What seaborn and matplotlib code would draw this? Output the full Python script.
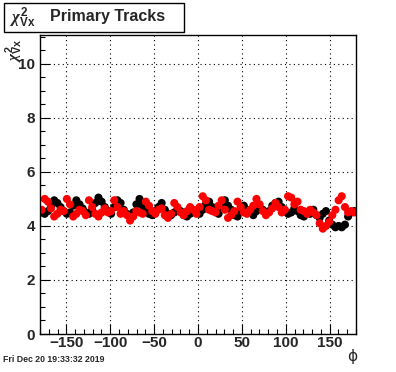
import numpy as np
import pandas as pd
import matplotlib
matplotlib.use("Agg")
import matplotlib.pyplot as plt
from matplotlib.ticker import MultipleLocator
from matplotlib.patches import Rectangle
import seaborn as sns

# phi bin centres (100 bins over -180..180)
phi = np.arange(-178.2, 180, 3.6)

black_vals = [
    4.50, 4.45, 4.55, 4.70, 4.95, 4.85, 4.70, 4.55, 4.45, 4.50,
    4.75, 4.95, 4.80, 4.65, 4.50, 4.45, 4.60, 4.85, 5.05, 4.90,
    4.70, 4.55, 4.45, 4.70, 4.95, 4.85, 4.60, 4.45, 4.35, 4.50,
    4.80, 5.00, 4.75, 4.55, 4.45, 4.40, 4.55, 4.70, 4.85, 4.60,
    4.45, 4.40, 4.50, 4.60, 4.55, 4.40, 4.35, 4.45, 4.60, 4.50,
    4.45, 4.60, 4.80, 4.90, 4.70, 4.55, 4.45, 4.70, 4.95, 4.75,
    4.60, 4.40, 4.35, 4.55, 4.75, 4.60, 4.50, 4.40, 4.55, 4.70,
    4.60, 4.45, 4.55, 4.75, 4.85, 4.90, 4.70, 4.55, 4.45, 4.50,
    4.65, 4.55, 4.40, 4.35, 4.50, 4.45, 4.60, 4.40, 4.30, 4.45,
    4.55, 4.20, 4.05, 3.95, 4.00, 3.95, 4.05, 4.35, 4.50, 4.55,
]

red_vals = [
    4.60, 5.00, 4.90, 4.65, 4.35, 4.45, 4.60, 4.55, 5.00, 4.80,
    4.35, 4.45, 4.60, 4.55, 4.40, 4.95, 4.70, 4.45, 4.35, 4.50,
    4.65, 4.50, 4.55, 4.95, 4.70, 4.45, 4.55, 4.40, 4.20, 4.35,
    4.55, 4.50, 4.45, 4.90, 4.75, 4.55, 4.45, 4.60, 4.65, 4.40,
    4.30, 4.45, 4.85, 4.70, 4.50, 4.40, 4.55, 4.70, 4.60, 4.45,
    4.70, 5.10, 4.95, 4.60, 4.55, 4.50, 4.75, 4.95, 4.60, 4.30,
    4.40, 4.55, 4.90, 4.70, 4.50, 4.45, 4.60, 4.75, 5.00, 4.80,
    4.55, 4.40, 4.50, 4.65, 4.85, 4.70, 4.50, 4.60, 5.10, 5.05,
    4.80, 4.90, 4.60, 4.55, 4.45, 4.60, 4.50, 4.40, 4.10, 3.90,
    4.00, 4.15, 4.40, 4.60, 4.95, 5.10, 4.70, 4.50, 4.55, 4.50,
]

series_names = ["set1", "set2"]
series_colors = {"set1": "black", "set2": "red"}

df = pd.concat([
    pd.DataFrame({"phi": phi, "chi2": black_vals, "series": "set1"}),
    pd.DataFrame({"phi": phi, "chi2": red_vals, "series": "set2"}),
], ignore_index=True)

sns.set_style("ticks")
plt.rcParams["font.family"] = ["Liberation Sans", "DejaVu Sans"]
plt.rcParams["font.weight"] = "bold"
plt.rcParams["mathtext.fontset"] = "custom"
plt.rcParams["mathtext.rm"] = "Liberation Sans:bold"
plt.rcParams["mathtext.bf"] = "Liberation Sans:bold"
plt.rcParams["mathtext.it"] = "Liberation Serif:italic"

chi_label = r"$\mathit{\chi}^{2}_{\mathrm{Vx}}$"

fig = plt.figure(figsize=(3.96, 3.72), dpi=100)
ax = fig.add_axes([40 / 396, 1 - 334 / 372, 316 / 396, 299 / 372])

sns.scatterplot(data=df, x="phi", y="chi2", hue="series", palette=series_colors,
                hue_order=series_names, s=34, linewidth=0, legend=False, ax=ax)

ax.set_xlim(-180, 180)
ax.set_ylim(0, 11.07)
ax.xaxis.set_major_locator(MultipleLocator(50))
ax.xaxis.set_minor_locator(MultipleLocator(10))
ax.yaxis.set_major_locator(MultipleLocator(2))
ax.yaxis.set_minor_locator(MultipleLocator(0.5))
ax.tick_params(which="both", direction="in", top=False, right=False,
               labelsize=11, width=0.8, color="black")
ax.tick_params(which="major", length=7)
ax.tick_params(which="minor", length=3.5)
ax.tick_params(axis="x", pad=1.5)
for lab in ax.get_xticklabels() + ax.get_yticklabels():
    lab.set_fontweight("bold")
ax.grid(True, which="major", linestyle=(0, (1, 3)), color="black", linewidth=0.8)
for sp in ax.spines.values():
    sp.set_visible(True)
    sp.set_color("black")
    sp.set_linewidth(1.0)

ax.set_xlabel("")
ax.set_ylabel("")
fig.text(352 / 396, 1 - 356 / 372, "ϕ", fontsize=11, family="DejaVu Sans",
         fontweight="normal", va="center", ha="center")
fig.text(14 / 396, 1 - 38 / 372, chi_label, fontsize=11, rotation=90,
         va="top", ha="center")

# title box
fig.patches.append(Rectangle((4 / 396, 1 - 32 / 372), 180 / 396, 29 / 372,
                             transform=fig.transFigure, facecolor="white",
                             edgecolor="black", linewidth=1.0))
fig.text(10 / 396, 1 - 18 / 372, chi_label, fontsize=12,
         va="center", ha="left")
fig.text(50 / 396, 1 - 17 / 372, "Primary Tracks", fontsize=11.5,
         fontweight="bold", va="center", ha="left")

fig.text(3 / 396, 1 - 360 / 372, "Fri Dec 20 19:33:32 2019", fontsize=6.3,
         va="center", ha="left")

fig.savefig("out.png", dpi=100)
